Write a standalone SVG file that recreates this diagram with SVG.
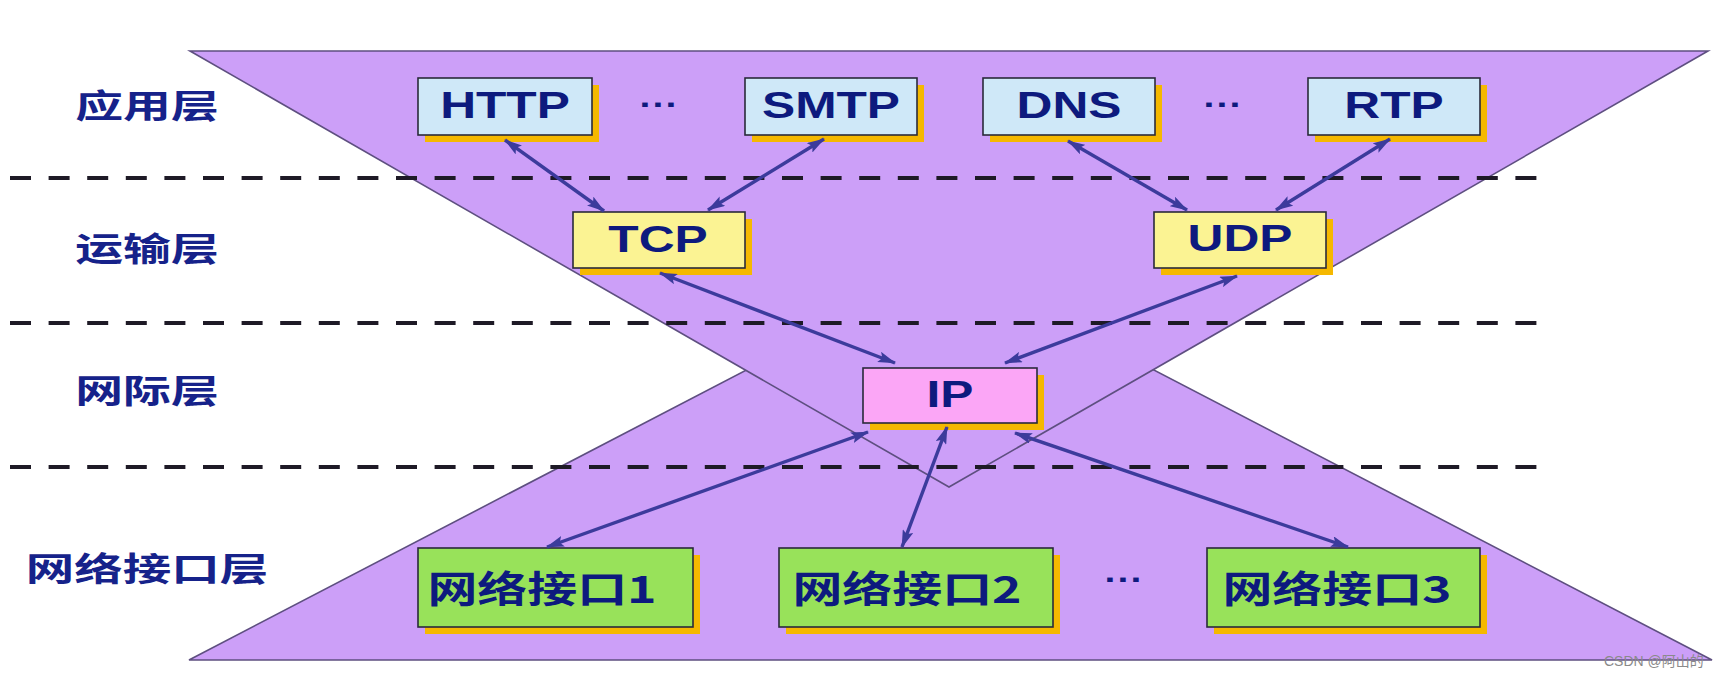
<svg xmlns="http://www.w3.org/2000/svg" width="1730" height="678" viewBox="0 0 1730 678">
<style>
.bg{fill:#cc9ff8;stroke:#5e4f80;stroke-width:1.6}
.dash{stroke:#1e1a26;stroke-width:4;stroke-dasharray:21 17.6;fill:none}
.lbl{font-family:"Noto Sans CJK SC","Noto Sans",sans-serif;font-weight:bold;font-size:33px;fill:#16228a;text-anchor:middle}
.bt{font-family:"Liberation Sans",Arial,sans-serif;font-weight:bold;font-size:36px;fill:#0d1a7e;text-anchor:middle}
.ct{font-family:"Noto Sans CJK SC",sans-serif;font-weight:bold;font-size:37px;fill:#0d1a7e;text-anchor:middle}
.sh{fill:#f5b800}
.box{stroke:#2a2a3a;stroke-width:1.6}
.app{fill:#cfe8f8}
.tr{fill:#fbf393}
.ip{fill:#fba6f6}
.ni{fill:#98e25a}
.conn line{stroke:#3c3b9c;stroke-width:3.4;marker-start:url(#ah);marker-end:url(#ah)}
.dots{font-family:"Liberation Sans",sans-serif;font-weight:bold;font-size:30px;fill:#0d1a7e;text-anchor:middle}
</style>
<defs>
<marker id="ah" viewBox="0 0 18 11" refX="17" refY="5.5" markerWidth="18" markerHeight="11" markerUnits="userSpaceOnUse" orient="auto-start-reverse">
<path d="M0,0 L18,5.5 L0,11 L3.5,5.5 z" fill="#3c3b9c"/>
</marker>
</defs>
<rect width="1730" height="678" fill="#ffffff"/>
<g id="background">
<polygon class="bg" points="950,264 1712,660 189,660"/>
<polygon class="bg" points="190,51 1708,51 949,487"/>
</g>
<g id="layer-lines">
<line class="dash" x1="10" y1="178" x2="1545" y2="178"/>
<line class="dash" x1="10" y1="323" x2="1545" y2="323"/>
<line class="dash" x1="10" y1="467" x2="1545" y2="467"/>
</g>
<g id="layer-labels">
<text class="lbl" transform="translate(147,118) scale(1.45,1)">应用层</text>
<text class="lbl" transform="translate(147,261) scale(1.45,1)">运输层</text>
<text class="lbl" transform="translate(147,403) scale(1.45,1)">网际层</text>
<text class="lbl" transform="translate(147,581) scale(1.47,1)">网络接口层</text>
</g>
<g id="http">
<rect class="sh" x="425" y="85" width="174" height="57"/>
<rect class="box app" x="418" y="78" width="174" height="57"/>
<text class="bt" transform="translate(505,118) scale(1.38,1)">HTTP</text>
</g>
<g id="smtp">
<rect class="sh" x="752" y="85" width="172" height="57"/>
<rect class="box app" x="745" y="78" width="172" height="57"/>
<text class="bt" transform="translate(831,118) scale(1.38,1)">SMTP</text>
</g>
<g id="dns">
<rect class="sh" x="990" y="85" width="172" height="57"/>
<rect class="box app" x="983" y="78" width="172" height="57"/>
<text class="bt" transform="translate(1069,118) scale(1.38,1)">DNS</text>
</g>
<g id="rtp">
<rect class="sh" x="1315" y="85" width="172" height="57"/>
<rect class="box app" x="1308" y="78" width="172" height="57"/>
<text class="bt" transform="translate(1394,118) scale(1.38,1)">RTP</text>
</g>
<g id="dots">
<text class="dots" transform="translate(659,115) scale(1.3,1)">···</text>
<text class="dots" transform="translate(1223,115) scale(1.3,1)">···</text>
<text class="dots" transform="translate(1124,590) scale(1.3,1)">···</text>
</g>
<g id="tcp">
<rect class="sh" x="580" y="219" width="172" height="56"/>
<rect class="box tr" x="573" y="212" width="172" height="56"/>
<text class="bt" transform="translate(658,252) scale(1.38,1)">TCP</text>
</g>
<g id="udp">
<rect class="sh" x="1161" y="219" width="172" height="56"/>
<rect class="box tr" x="1154" y="212" width="172" height="56"/>
<text class="bt" transform="translate(1240,251) scale(1.38,1)">UDP</text>
</g>
<g id="ip">
<rect class="sh" x="870" y="375" width="174" height="55"/>
<rect class="box ip" x="863" y="368" width="174" height="55"/>
<text class="bt" transform="translate(950,407) scale(1.38,1)">IP</text>
</g>
<g id="ni1">
<rect class="sh" x="425" y="555" width="275" height="79"/>
<rect class="box ni" x="418" y="548" width="275" height="79"/>
<text class="ct" transform="translate(542,603) scale(1.35,1)">网络接口1</text>
</g>
<g id="ni2">
<rect class="sh" x="786" y="555" width="274" height="79"/>
<rect class="box ni" x="779" y="548" width="274" height="79"/>
<text class="ct" transform="translate(907,603) scale(1.35,1)">网络接口2</text>
</g>
<g id="ni3">
<rect class="sh" x="1214" y="555" width="273" height="79"/>
<rect class="box ni" x="1207" y="548" width="273" height="79"/>
<text class="ct" transform="translate(1337,603) scale(1.35,1)">网络接口3</text>
</g>
<g id="connectors" class="conn">
<line x1="505" y1="140" x2="604" y2="211"/>
<line x1="824" y1="139" x2="708" y2="210"/>
<line x1="1068" y1="141" x2="1187" y2="210"/>
<line x1="1390" y1="139" x2="1276" y2="210"/>
<line x1="660" y1="273" x2="895" y2="363"/>
<line x1="1237" y1="276" x2="1005" y2="363"/>
<line x1="868" y1="432" x2="547" y2="547"/>
<line x1="947" y1="427" x2="902" y2="547"/>
<line x1="1015" y1="433" x2="1348" y2="547"/>
</g>
<g id="watermark">
<text x="1604" y="666" font-family="Liberation Sans,Noto Sans CJK SC,sans-serif" font-size="14" fill="#8a8a8a">CSDN @阿山的</text>
</g>
</svg>
